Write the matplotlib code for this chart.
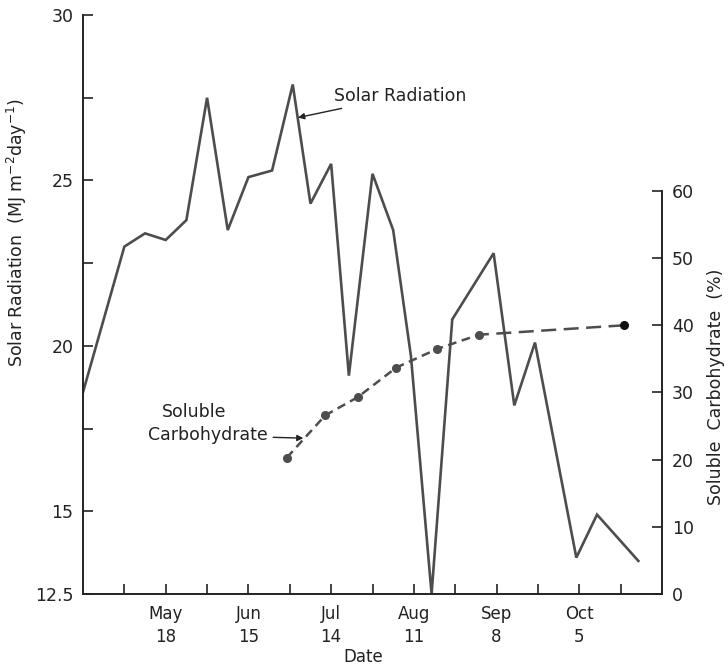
import matplotlib
matplotlib.use("Agg")
import matplotlib.pyplot as plt
from matplotlib.ticker import FixedLocator, NullFormatter

plt.rcParams['font.family'] = ['DejaVu Sans']

# Days counted from 20 April; the date axis is ticked every two weeks
solar_days = [0, 14, 21, 28, 35, 42, 49, 56, 64, 71, 77, 84, 90, 98, 105,
              111, 118, 125, 139, 146, 153, 167, 174, 188]
solar_mj = [18.6, 23.0, 23.4, 23.2, 23.8, 27.5, 23.5, 25.1, 25.3, 27.9, 24.3,
            25.5, 19.1, 25.2, 23.5, 19.7, 12.5, 20.8, 22.8, 18.2, 20.1, 13.6,
            14.9, 13.5]

carb_days = [69, 82, 93, 106, 120, 134, 183]
carb_pct = [20.3, 26.6, 29.3, 33.7, 36.5, 38.6, 40.0]

date_ticks = [28, 56, 84, 112, 140, 168]
date_labels = ["May\n18", "Jun\n15", "Jul\n14", "Aug\n11", "Sep\n8", "Oct\n5"]
solar_ticks = [12.5, 15, 20, 25, 30]
solar_labels = ["12.5", "15", "20", "25", "30"]
carb_ticks = [0, 10, 20, 30, 40, 50, 60]

ink = "#222222"
line_grey = "#4d4d4d"

fig = plt.figure(figsize=(7.28, 6.67), dpi=100)
ax = fig.add_axes([83 / 728, 1 - 594 / 667, (662 - 83) / 728, (594 - 15) / 667])
ax2 = ax.twinx()

# solar radiation
ax.plot(solar_days, solar_mj, color=line_grey, lw=1.9, solid_joinstyle="miter")
ax.set_xlim(0, 196)
ax.set_ylim(12.5, 30)

# soluble carbohydrate on the right-hand scale; the last interval is long-dashed
ax2.plot(carb_days[:-1], carb_pct[:-1], color=line_grey, lw=1.8, ls=(0, (3.5, 2.2)),
         marker="o", ms=5.5, mfc=line_grey, mec=line_grey)
ax2.plot(carb_days[-2:], carb_pct[-2:], color=line_grey, lw=1.8, ls=(2, (6, 3)))
ax2.plot(carb_days[-1:], carb_pct[-1:], "o", color="#111111", ms=5.5)
ax2.set_ylim(0, 86.2)

# spines
for a in (ax, ax2):
    a.spines["top"].set_visible(False)
ax.spines["right"].set_visible(False)
ax2.spines["left"].set_visible(False)
ax2.spines["bottom"].set_visible(False)
ax2.spines["right"].set_bounds(0, 60)
for s in ("left", "bottom"):
    ax.spines[s].set_linewidth(1.4)
    ax.spines[s].set_color(ink)
ax2.spines["right"].set_linewidth(1.4)
ax2.spines["right"].set_color(ink)

# ticks
ax.set_yticks(solar_ticks)
ax.set_yticklabels(solar_labels)
ax.yaxis.set_minor_locator(FixedLocator([17.5, 22.5, 27.5]))
ax.set_xticks(date_ticks)
ax.set_xticklabels(date_labels, linespacing=1.35)
ax.xaxis.set_minor_locator(FixedLocator([d for d in range(14, 196, 14) if d not in date_ticks]))
ax.xaxis.set_minor_formatter(NullFormatter())
ax.tick_params(axis="y", which="both", direction="in", length=7, width=1.2,
               color=ink, labelcolor=ink, labelsize=12.5, pad=7)
ax.tick_params(axis="x", which="both", direction="in", length=7, width=1.2,
               color=ink, labelcolor=ink, labelsize=12, pad=8)
ax2.set_yticks(carb_ticks)
ax2.tick_params(axis="y", direction="in", length=7, width=1.2,
                color=ink, labelcolor=ink, labelsize=12.5, pad=7)

# axis titles
fig.text(17 / 728, 1 - 232 / 667, "Solar Radiation  (MJ m$^{-2}$day$^{-1}$)",
         rotation=90, ha="center", va="center", fontsize=12.5, color=ink)
fig.text(716 / 728, 1 - 387 / 667, "Soluble  Carbohydrate  (%)",
         rotation=90, ha="center", va="center", fontsize=12.5, color=ink)
fig.text(363 / 728, 1 - 657 / 667, "Date", ha="center", va="center",
         fontsize=12, color=ink)

# line labels
arrow = dict(arrowstyle="-|>", color=ink, lw=1.0, mutation_scale=9,
             shrinkA=2, shrinkB=0)
ax.annotate("Solar Radiation", xy=(72.8, 26.9), xytext=(85, 27.55),
            ha="left", va="center", fontsize=12.5, color=ink, arrowprops=arrow)
ax2.annotate("Carbohydrate", xy=(74.6, 23.2), xytext=(62.5, 23.6),
             ha="right", va="center", fontsize=12.5, color=ink, arrowprops=arrow)
ax2.text(37.5, 27.1, "Soluble", ha="center", va="center", fontsize=12.5, color=ink)

fig.savefig("out.png", dpi=100)
